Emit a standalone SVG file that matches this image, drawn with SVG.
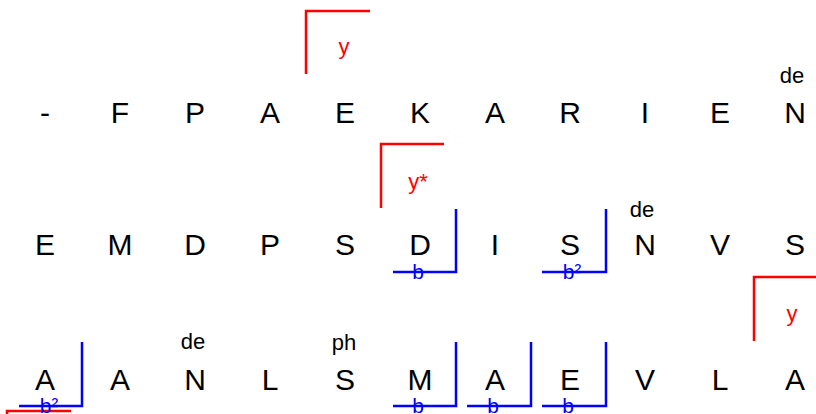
<svg xmlns="http://www.w3.org/2000/svg" width="816" height="414" viewBox="0 0 816 414">
<style>
  text { font-family: "Liberation Sans", Arial, sans-serif; text-anchor: middle; }
  .tok { font-size: 30px; fill: #000; }
  .lab { font-size: 22px; fill: #000; }
  .rl { font-size: 22px; fill: #ff0000; }
  .bl { font-size: 21px; fill: #0000ff; }
  .r { fill: none; stroke: #ff0000; stroke-width: 2.5; }
  .b { fill: none; stroke: #0000ff; stroke-width: 2.5; }
</style>
<rect width="816" height="414" fill="#ffffff"/>
<g id="connectors">
  <path class="r" d="M306,74 V11 H370"/>
  <path class="r" d="M381,208 V144 H444"/>
  <path class="r" d="M754,341 V277 H816"/>
  <path class="r" d="M7,420 V411 H71"/>
  <path class="b" d="M393,272 H456 V209"/>
  <path class="b" d="M542,272 H606 V209"/>
  <path class="b" d="M19,406 H82 V342"/>
  <path class="b" d="M393,406 H456 V342"/>
  <path class="b" d="M467,406 H531 V342"/>
  <path class="b" d="M542,406 H606 V342"/>
</g>
<g id="row1">
  <g id="r1c1"><text class="tok" x="45" y="123">-</text></g>
  <g id="r1c2"><text class="tok" x="120" y="123">F</text></g>
  <g id="r1c3"><text class="tok" x="195" y="123">P</text></g>
  <g id="r1c4"><text class="tok" x="270" y="123">A</text></g>
  <g id="r1c5"><text class="tok" x="345" y="123">E</text><text class="rl" x="344" y="54">y</text></g>
  <g id="r1c6"><text class="tok" x="420" y="123">K</text></g>
  <g id="r1c7"><text class="tok" x="495" y="123">A</text></g>
  <g id="r1c8"><text class="tok" x="570" y="123">R</text></g>
  <g id="r1c9"><text class="tok" x="645" y="123">I</text></g>
  <g id="r1c10"><text class="tok" x="720" y="123">E</text></g>
  <g id="r1c11"><text class="tok" x="795" y="123">N</text><text class="lab" x="792" y="83">de</text></g>
</g>
<g id="row2">
  <g id="r2c1"><text class="tok" x="45" y="255">E</text></g>
  <g id="r2c2"><text class="tok" x="120" y="255">M</text></g>
  <g id="r2c3"><text class="tok" x="195" y="255">D</text></g>
  <g id="r2c4"><text class="tok" x="270" y="255">P</text></g>
  <g id="r2c5"><text class="tok" x="345" y="255">S</text></g>
  <g id="r2c6"><text class="tok" x="420" y="255">D</text><text class="rl" x="418" y="189">y*</text><text class="bl" x="418" y="279">b</text></g>
  <g id="r2c7"><text class="tok" x="495" y="255">I</text></g>
  <g id="r2c8"><text class="tok" x="570" y="255">S</text><text class="bl" x="572" y="279">b²</text></g>
  <g id="r2c9"><text class="tok" x="645" y="255">N</text><text class="lab" x="642" y="217">de</text></g>
  <g id="r2c10"><text class="tok" x="720" y="255">V</text></g>
  <g id="r2c11"><text class="tok" x="795" y="255">S</text></g>
</g>
<g id="row3">
  <g id="r3c1"><text class="tok" x="45" y="390">A</text><text class="bl" x="49" y="413">b²</text></g>
  <g id="r3c2"><text class="tok" x="120" y="390">A</text></g>
  <g id="r3c3"><text class="tok" x="195" y="390">N</text><text class="lab" x="193" y="349">de</text></g>
  <g id="r3c4"><text class="tok" x="270" y="390">L</text></g>
  <g id="r3c5"><text class="tok" x="345" y="390">S</text><text class="lab" x="344" y="350">ph</text></g>
  <g id="r3c6"><text class="tok" x="420" y="390">M</text><text class="bl" x="418" y="413">b</text></g>
  <g id="r3c7"><text class="tok" x="495" y="390">A</text><text class="bl" x="493" y="413">b</text></g>
  <g id="r3c8"><text class="tok" x="570" y="390">E</text><text class="bl" x="568" y="413">b</text></g>
  <g id="r3c9"><text class="tok" x="645" y="390">V</text></g>
  <g id="r3c10"><text class="tok" x="720" y="390">L</text></g>
  <g id="r3c11"><text class="tok" x="795" y="390">A</text><text class="rl" x="792" y="321">y</text></g>
</g>
</svg>
